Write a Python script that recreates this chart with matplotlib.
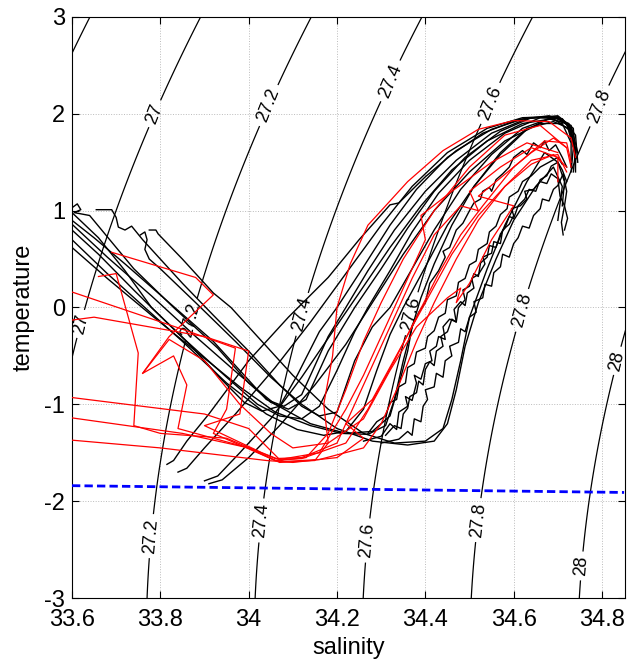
import numpy as np
import matplotlib
matplotlib.use("Agg")
import matplotlib.pyplot as plt

plt.rcParams['font.family'] = ['Liberation Sans', 'DejaVu Sans']
plt.rcParams['axes.unicode_minus'] = False

# density levels (sigma0) for the background contours
sigma_levels = [27.0, 27.2, 27.4, 27.6, 27.8, 28.0]
sigma_unlabelled = [26.8]

# freezing line (surface)
freeze_S = [33.6, 34.85]
freeze_T = [-1.84, -1.91]

# black profiles (salinity, temperature)
black_profiles = [
    [(33.600, 1.03), (33.612, 1.07), (33.620, 1.01), (33.605, 0.98), (33.640, 0.95), (33.74, 0.40), (33.83, 0.00),
     (33.93, -0.42), (34.00, -0.78), (34.05, -0.98), (34.09, -1.05), (34.13, -0.95), (34.18, -0.45), (34.24, 0.00),
     (34.30, 0.40), (34.36, 0.82), (34.42, 1.20), (34.49, 1.55), (34.57, 1.82), (34.64, 1.96), (34.70, 1.96),
     (34.73, 1.85), (34.74, 1.55)],
    [(33.60, 0.98), (33.66, 0.72), (33.72, 0.38), (33.78, 0.00), (33.87, -0.40), (33.94, -0.75), (33.99, -0.98),
     (34.03, -1.07), (34.07, -1.02), (34.11, -0.70), (34.16, -0.25), (34.20, 0.00), (34.26, 0.42), (34.32, 0.85),
     (34.38, 1.22), (34.45, 1.55), (34.53, 1.80), (34.61, 1.94), (34.68, 1.98), (34.725, 1.90), (34.74, 1.60)],
    [(33.655, 1.01), (33.69, 1.01), (33.70, 0.93), (33.705, 0.83), (33.72, 0.80), (33.735, 0.84), (33.76, 0.70),
     (33.85, 0.25), (33.92, -0.08), (34.00, -0.45), (34.07, -0.80), (34.12, -1.02), (34.16, -1.12), (34.20, -1.08),
     (34.24, -0.55), (34.28, -0.20), (34.32, 0.00), (34.37, 0.40), (34.42, 0.80), (34.48, 1.22), (34.55, 1.58),
     (34.62, 1.85), (34.68, 1.95), (34.72, 1.90), (34.74, 1.65), (34.74, 1.40)],
    [(33.60, 0.80), (33.66, 0.55), (33.74, 0.18), (33.78, 0.00), (33.86, -0.35), (33.95, -0.72), (34.02, -1.00),
     (34.07, -1.12), (34.12, -1.15), (34.16, -1.02), (34.20, -0.65), (34.24, -0.25), (34.27, 0.00), (34.32, 0.38),
     (34.37, 0.78), (34.43, 1.18), (34.50, 1.52), (34.58, 1.80), (34.66, 1.96), (34.71, 1.95), (34.74, 1.78),
     (34.745, 1.50)],
    [(33.60, 0.70), (33.68, 0.35), (33.76, 0.02), (33.85, -0.35), (33.95, -0.78), (34.04, -1.10), (34.11, -1.26),
     (34.17, -1.32), (34.22, -1.28), (34.26, -1.05), (34.29, -0.65), (34.32, -0.28), (34.35, 0.00), (34.40, 0.42),
     (34.45, 0.85), (34.51, 1.25), (34.57, 1.58), (34.63, 1.84), (34.68, 1.95), (34.72, 1.90), (34.735, 1.65),
     (34.73, 1.40)],
    [(33.60, 0.62), (33.68, 0.30), (33.78, -0.08), (33.88, -0.45), (33.98, -0.82), (34.06, -1.08), (34.14, -1.22),
     (34.21, -1.30), (34.27, -1.31), (34.31, -1.22), (34.33, -0.95), (34.35, -0.55), (34.37, -0.20), (34.39, 0.10),
     (34.42, 0.45), (34.46, 0.85), (34.51, 1.25), (34.57, 1.60), (34.63, 1.85), (34.69, 1.92), (34.725, 1.85),
     (34.74, 1.62), (34.735, 1.40)],
    [(33.775, 0.80), (33.79, 0.80), (33.795, 0.76), (33.85, 0.50), (33.92, 0.15), (33.96, 0.00), (34.03, -0.35),
     (34.10, -0.70), (34.18, -1.05), (34.26, -1.30), (34.33, -1.40), (34.40, -1.38), (34.44, -1.25), (34.46, -0.95),
     (34.48, -0.55), (34.50, -0.10), (34.54, 0.40), (34.58, 0.85), (34.63, 1.30), (34.67, 1.60), (34.70, 1.50),
     (34.715, 1.30), (34.71, 1.05)],
    [(33.755, 0.75), (33.765, 0.78), (33.77, 0.70), (33.765, 0.60), (33.775, 0.50), (33.80, 0.40), (33.88, 0.05),
     (33.97, -0.35), (34.05, -0.72), (34.12, -1.00), (34.20, -1.25), (34.28, -1.38), (34.36, -1.42), (34.42, -1.38),
     (34.45, -1.20), (34.47, -0.85), (34.49, -0.40), (34.52, 0.05), (34.56, 0.50), (34.60, 0.90), (34.65, 1.25),
     (34.69, 1.45), (34.71, 1.25), (34.70, 0.90)],
    [(33.60, 0.90), (33.65, 0.72), (33.72, 0.45), (33.82, 0.05), (33.92, -0.35), (33.99, -0.70), (34.04, -0.95),
     (34.08, -1.02), (34.12, -0.90), (34.15, -0.60), (34.18, -0.30), (34.22, 0.00), (34.27, 0.38), (34.33, 0.80),
     (34.40, 1.20), (34.47, 1.52), (34.55, 1.80), (34.63, 1.95), (34.70, 1.98), (34.735, 1.85), (34.74, 1.50)],
    [(33.60, 0.86), (33.68, 0.52), (33.78, 0.12), (33.88, -0.30), (33.98, -0.70), (34.06, -1.00), (34.14, -1.20),
     (34.22, -1.30), (34.28, -1.28), (34.32, -1.12), (34.34, -0.80), (34.36, -0.45), (34.37, -0.20), (34.385, -0.05),
     (34.40, 0.05), (34.41, 0.25), (34.43, 0.38), (34.445, 0.52), (34.44, 0.58), (34.455, 0.62), (34.47, 0.80),
     (34.485, 0.87), (34.50, 1.00), (34.51, 1.08), (34.525, 1.12), (34.53, 1.20), (34.545, 1.24), (34.55, 1.20),
     (34.56, 1.32), (34.575, 1.38), (34.59, 1.45), (34.60, 1.55), (34.62, 1.62), (34.63, 1.58), (34.645, 1.70),
     (34.66, 1.65), (34.67, 1.72), (34.68, 1.62), (34.695, 1.68), (34.71, 1.55), (34.72, 1.45)],
    [(33.815, -1.62), (33.83, -1.58), (33.86, -1.38), (33.91, -1.10), (34.00, -0.55), (34.09, -0.10), (34.18, 0.31),
     (34.25, 0.70), (34.32, 1.06), (34.34, 1.08), (34.40, 1.35), (34.47, 1.62), (34.55, 1.84), (34.63, 1.96),
     (34.70, 1.97), (34.73, 1.85), (34.74, 1.55)],
    [(33.84, -1.70), (33.86, -1.66), (33.90, -1.45), (33.97, -1.10), (34.06, -0.62), (34.14, -0.15), (34.22, 0.35),
     (34.30, 0.85), (34.37, 1.25), (34.45, 1.60), (34.54, 1.85), (34.62, 1.96), (34.69, 1.97), (34.73, 1.88),
     (34.745, 1.60)],
    [(33.90, -1.79), (33.93, -1.74), (33.98, -1.50), (34.05, -1.15), (34.12, -0.72), (34.19, -0.25), (34.25, 0.15),
     (34.32, 0.62), (34.39, 1.05), (34.46, 1.42), (34.54, 1.72), (34.62, 1.90), (34.69, 1.95), (34.73, 1.82),
     (34.74, 1.55)],
    [(33.91, -1.82), (33.94, -1.78), (34.00, -1.55), (34.07, -1.22), (34.15, -0.80), (34.22, -0.38), (34.28, 0.05),
     (34.35, 0.55), (34.42, 1.00), (34.50, 1.40), (34.58, 1.72), (34.66, 1.90), (34.71, 1.90), (34.73, 1.70),
     (34.73, 1.45)],
    [(34.26, -1.38), (34.30, -1.33), (34.32, -1.20), (34.335, -1.26), (34.34, -1.08), (34.36, -1.02), (34.355, -0.92),
     (34.37, -0.96), (34.38, -0.78), (34.375, -0.70), (34.39, -0.74), (34.40, -0.58), (34.415, -0.55), (34.41, -0.45),
     (34.425, -0.40), (34.43, -0.30), (34.445, -0.33), (34.44, -0.20), (34.455, -0.12), (34.47, -0.15), (34.465, -0.02),
     (34.48, 0.06), (34.49, 0.02), (34.495, 0.15), (34.51, 0.20), (34.505, 0.30), (34.52, 0.34), (34.535, 0.45),
     (34.53, 0.52), (34.55, 0.56), (34.555, 0.68), (34.57, 0.66), (34.575, 0.80), (34.59, 0.86), (34.60, 0.95),
     (34.595, 1.02), (34.615, 1.05), (34.63, 1.12), (34.625, 1.20), (34.645, 1.22), (34.66, 1.30), (34.675, 1.28),
     (34.685, 1.38), (34.70, 1.33), (34.705, 1.15), (34.715, 1.05), (34.708, 0.88), (34.712, 0.75)],
    [(34.30, -1.40), (34.34, -1.36), (34.36, -1.28), (34.37, -1.32), (34.375, -1.15), (34.39, -1.18), (34.395, -1.02),
     (34.405, -0.95), (34.40, -0.85), (34.42, -0.82), (34.425, -0.68), (34.44, -0.72), (34.445, -0.55), (34.46, -0.50),
     (34.455, -0.40), (34.475, -0.36), (34.48, -0.22), (34.49, -0.25), (34.50, -0.10), (34.515, -0.05), (34.51, 0.06),
     (34.53, 0.10), (34.535, 0.24), (34.55, 0.22), (34.555, 0.36), (34.57, 0.42), (34.575, 0.55), (34.59, 0.52),
     (34.60, 0.66), (34.61, 0.72), (34.62, 0.84), (34.635, 0.82), (34.645, 0.95), (34.66, 1.02), (34.665, 1.12),
     (34.68, 1.10), (34.69, 1.22), (34.70, 1.26), (34.712, 1.38), (34.72, 1.20), (34.715, 1.05), (34.722, 0.92),
     (34.715, 0.80)],
    [(34.31, -1.32), (34.33, -1.22), (34.345, -1.25), (34.35, -1.10), (34.36, -1.04), (34.365, -0.92), (34.38, -0.88),
     (34.385, -0.76), (34.395, -0.80), (34.40, -0.64), (34.41, -0.56), (34.42, -0.60), (34.425, -0.45), (34.44, -0.40),
     (34.435, -0.30), (34.45, -0.25), (34.46, -0.12), (34.47, -0.15), (34.475, 0.00), (34.49, 0.08), (34.485, 0.18),
     (34.50, 0.22), (34.51, 0.35), (34.52, 0.32), (34.525, 0.46), (34.54, 0.52), (34.545, 0.64), (34.56, 0.62),
     (34.57, 0.76), (34.58, 0.82), (34.59, 0.94), (34.60, 0.92), (34.61, 1.05), (34.625, 1.12), (34.635, 1.22),
     (34.65, 1.20), (34.66, 1.32), (34.675, 1.36), (34.685, 1.46), (34.70, 1.50), (34.71, 1.42), (34.72, 1.30)],
    [(34.27, -1.30), (34.29, -1.18), (34.31, -1.12), (34.32, -0.98), (34.335, -0.95), (34.34, -0.82), (34.355, -0.78),
     (34.36, -0.62), (34.375, -0.58), (34.38, -0.46), (34.40, -0.42), (34.405, -0.30), (34.42, -0.24), (34.43, -0.10),
     (34.445, -0.06), (34.45, 0.08), (34.47, 0.12), (34.475, 0.26), (34.49, 0.30), (34.50, 0.44), (34.515, 0.48),
     (34.52, 0.60), (34.54, 0.66), (34.545, 0.78), (34.56, 0.84), (34.57, 0.96), (34.585, 1.02), (34.59, 1.14),
     (34.61, 1.20), (34.62, 1.30), (34.64, 1.36), (34.66, 1.45), (34.68, 1.50), (34.70, 1.55), (34.71, 1.48)],
]

# red profiles (coarse resolution)
red_profiles = [
    [(33.60, 0.16), (33.86, -0.24), (33.97, -0.42), (33.95, -1.05), (33.92, -1.30), (34.06, -1.58), (34.13, -1.55),
     (34.18, -1.30), (34.22, -0.85), (34.26, -0.35), (34.30, 0.05), (34.35, 0.50), (34.42, 1.00), (34.50, 1.45),
     (34.58, 1.78), (34.66, 1.88), (34.72, 1.65), (34.73, 1.45)],
    [(33.69, 0.57), (33.88, 0.31), (33.92, 0.13), (33.82, -0.30), (33.76, -0.68), (33.83, -0.50), (33.86, -0.80),
     (33.84, -1.25), (34.00, -1.45), (34.07, -1.60), (34.15, -1.58), (34.18, -1.40), (34.17, -1.00), (34.19, -0.50),
     (34.20, 0.00), (34.23, 0.45), (34.27, 0.85), (34.30, 1.00), (34.36, 1.30), (34.44, 1.62), (34.52, 1.84),
     (34.60, 1.93), (34.68, 1.92), (34.73, 1.75), (34.74, 1.55)],
    [(33.60, -0.13), (33.65, -0.10), (33.90, -0.30), (34.00, -0.45), (33.98, -1.10), (33.90, -1.22), (34.03, -1.50),
     (34.08, -1.59), (34.16, -1.57), (34.26, -1.45), (34.30, -1.20), (34.34, -0.80), (34.38, -0.35), (34.42, 0.05),
     (34.47, 0.50), (34.52, 0.90), (34.58, 1.25), (34.64, 1.52), (34.70, 1.58), (34.72, 1.40)],
    [(33.66, 0.32), (33.70, 0.35), (33.75, -0.47), (33.74, -1.22), (33.80, -1.30), (33.95, -1.35), (34.06, -1.56),
     (34.12, -1.55), (34.20, -1.40), (34.23, -1.10), (34.28, -0.60), (34.33, -0.10), (34.37, 0.30), (34.42, 0.75),
     (34.48, 1.05), (34.52, 1.00), (34.50, 1.20), (34.57, 1.45), (34.64, 1.65), (34.70, 1.55), (34.70, 1.30)],
    [(33.60, -0.93), (33.90, -1.10), (34.00, -1.25), (34.07, -1.57), (34.16, -1.50), (34.22, -1.05), (34.26, -0.70),
     (34.30, -0.30), (34.34, 0.10), (34.38, 0.50), (34.40, 0.70), (34.39, 0.95), (34.46, 1.20), (34.55, 1.50),
     (34.63, 1.70), (34.70, 1.60)],
    [(33.60, -1.14), (33.85, -1.30), (34.00, -1.45), (34.06, -1.58), (34.12, -1.56), (34.22, -1.40), (34.27, -1.05),
     (34.33, -0.55), (34.38, -0.10), (34.43, 0.35), (34.48, 0.75), (34.53, 1.05), (34.60, 1.45), (34.67, 1.72),
     (34.72, 1.70), (34.73, 1.50)],
    [(33.60, -1.37), (33.80, -1.45), (34.04, -1.58), (34.10, -1.60), (34.20, -1.55), (34.26, -1.35), (34.22, -1.20),
     (34.28, -0.95), (34.34, -0.45), (34.40, 0.05), (34.46, 0.55), (34.52, 0.95), (34.58, 1.25), (34.64, 1.48),
     (34.69, 1.58), (34.72, 1.45)],
    [(33.76, -0.68), (33.82, -0.33), (33.90, -0.55), (33.98, -1.00), (34.05, -1.30), (34.10, -1.45), (34.18, -1.40),
     (34.26, -1.15), (34.32, -0.65), (34.38, -0.20), (34.45, 0.10), (34.48, 0.20), (34.47, 0.05), (34.50, 0.25),
     (34.55, 0.70), (34.60, 1.05), (34.52, 1.15), (34.56, 1.30), (34.64, 1.60), (34.69, 1.75), (34.72, 1.65)],
]

# where the contour labels sit
label_pos = [(33.788, 2.0), (33.61, -0.16),
             (34.055, 2.07), (33.874, -0.13), (33.777, -2.36),
             (34.315, 2.35), (34.13, -0.08), (34.03, -2.2),
             (34.546, 2.11), (34.365, -0.06), (34.28, -2.41),
             (34.789, 2.09), (34.62, -0.03), (34.53, -2.2),
             (34.834, -0.55), (34.757, -2.67)]


def sigma0(S, T):
    # UNESCO 1981 density at surface pressure, minus 1000
    rw = (999.842594 + 6.793952e-2 * T - 9.095290e-3 * T**2 + 1.001685e-4 * T**3
          - 1.120083e-6 * T**4 + 6.536332e-9 * T**5)
    A = 0.824493 - 4.0899e-3 * T + 7.6438e-5 * T**2 - 8.2467e-7 * T**3 + 5.3875e-9 * T**4
    B = -5.72466e-3 + 1.0227e-4 * T - 1.6546e-6 * T**2
    C = 4.8314e-4
    return rw + A * S + B * S**1.5 + C * S**2 - 1000.0


fig = plt.figure(figsize=(6.27, 6.66), dpi=100)
ax = fig.add_axes([0.1148, 0.1021, 0.882, 0.8724])

ss, tt = np.meshgrid(np.linspace(33.5, 34.95, 300), np.linspace(-3.1, 3.1, 300))
sig = sigma0(ss, tt)
ax.contour(ss, tt, sig, levels=sigma_unlabelled, colors='k', linewidths=0.9, zorder=2)
cs = ax.contour(ss, tt, sig, levels=sigma_levels, colors='k', linewidths=0.9, zorder=2)
ax.clabel(cs, manual=label_pos, inline=True, fmt='%g', fontsize=13, inline_spacing=4)

for prof in black_profiles:
    s, t = zip(*prof)
    ax.plot(s, t, color='k', lw=1.0, zorder=3)
for prof in red_profiles:
    s, t = zip(*prof)
    ax.plot(s, t, color='red', lw=0.9, zorder=4)

ax.plot(freeze_S, freeze_T, color='blue', ls='--', lw=2.0, dashes=(3, 1.5), zorder=5)

ax.set_xlim(33.6, 34.852)
ax.set_ylim(-3, 3)
ax.set_xticks(np.arange(33.6, 34.81, 0.2))
ax.set_xticklabels(['33.6', '33.8', '34', '34.2', '34.4', '34.6', '34.8'])
ax.set_yticks(np.arange(-3, 4, 1))
ax.tick_params(direction='in', top=True, right=True, labelsize=17, length=5, width=0.8)
ax.tick_params(axis='x', pad=8)
ax.tick_params(axis='y', pad=5)
ax.grid(True, color='#bbbbbb', ls=':', lw=0.7, zorder=0)
ax.set_axisbelow(True)
ax.set_xlabel('salinity', fontsize=17, labelpad=4)
ax.set_ylabel('temperature', fontsize=17, labelpad=7)

fig.savefig('out.png', dpi=100)
